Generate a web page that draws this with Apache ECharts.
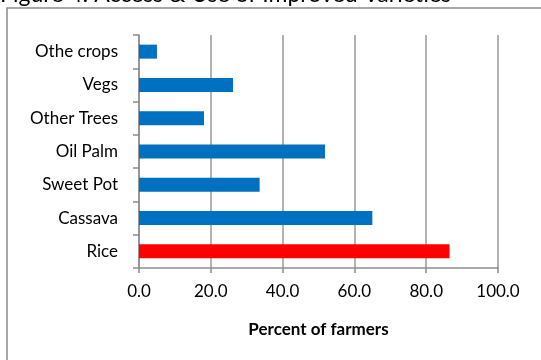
<!DOCTYPE html>
<html>
<head>
<meta charset="utf-8">
<title>Access & Use of Improved Varieties</title>
<script src="https://cdn.jsdelivr.net/npm/echarts@6/dist/echarts.min.js"></script>
<style>
html, body { margin: 0; padding: 0; background: #fff; }
#chart { width: 541px; height: 360px; }
</style>
</head>
<body>
<div id="chart"></div>
<script>
// bottom to top, as the category axis draws them
var crops = ['Rice', 'Cassava', 'Sweet Pot', 'Oil Palm', 'Other Trees', 'Vegs', 'Othe crops'];
var percentFarmers = [86.5, 65.0, 33.6, 51.8, 18.1, 26.2, 5.0];
var xTicks = [0, 20, 40, 60, 80, 100];

var fontName = 'Lato, "Open Sans", sans-serif';

var option = {
    animation: false,
    backgroundColor: '#fff',
    graphic: [
        {
            type: 'rect',
            shape: { x: 7, y: 8, width: 600, height: 400 },
            style: { fill: 'none', stroke: '#8a8a8a', lineWidth: 1.5 },
            z: 0
        },
        {
            type: 'text',
            left: 0,
            top: -17,
            style: {
                text: 'Figure 4: Access & Use of Improved Varieties',
                font: '23px ' + fontName,
                fill: '#000'
            }
        }
    ],
    grid: { left: 139, right: 43, top: 35, bottom: 92 },
    xAxis: {
        type: 'value',
        min: xTicks[0],
        max: xTicks[xTicks.length - 1],
        interval: 20,
        name: 'Percent of farmers',
        nameLocation: 'middle',
        nameGap: 53,
        nameTextStyle: { color: '#000', fontSize: 17, fontWeight: 'bold', fontFamily: fontName },
        axisLine: { show: true, lineStyle: { color: '#8c8c8c', width: 1.5 } },
        axisTick: { show: true, length: 5, lineStyle: { color: '#8c8c8c', width: 1.5 } },
        axisLabel: {
            color: '#000', fontSize: 17, fontFamily: fontName, margin: 15,
            formatter: function (v) { return v.toFixed(1); }
        },
        splitLine: { show: true, lineStyle: { color: '#999', width: 1.5 } }
    },
    yAxis: {
        type: 'category',
        data: crops,
        axisLine: { show: true, lineStyle: { color: '#8c8c8c', width: 1.5 } },
        axisTick: { show: true, length: 6, lineStyle: { color: '#8c8c8c', width: 1.5 } },
        axisLabel: { color: '#000', fontSize: 17, fontFamily: fontName, margin: 21 }
    },
    series: [{
        type: 'bar',
        barWidth: 14,
        data: percentFarmers.map(function (v, i) {
            return {
                value: v,
                itemStyle: { color: crops[i] === 'Rice' ? '#ff0000' : '#0070c0' }
            };
        })
    }]
};

var myChart = echarts.init(document.getElementById('chart'));
myChart.setOption(option);
</script>
</body>
</html>
